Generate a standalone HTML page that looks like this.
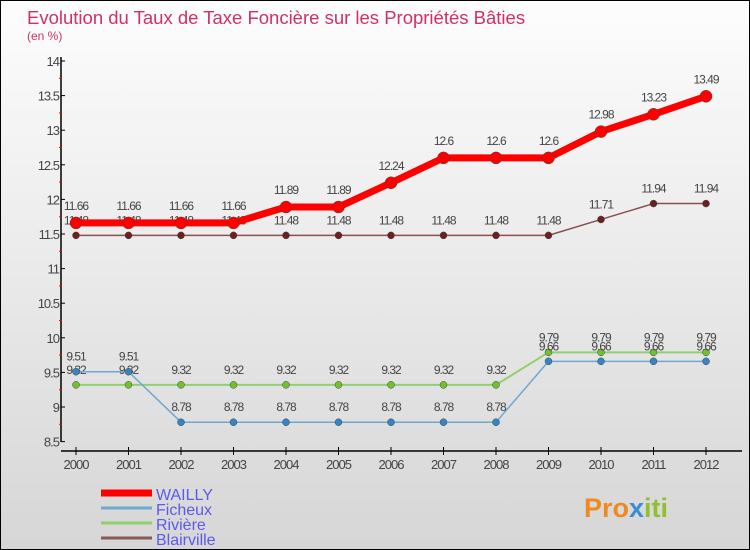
<!DOCTYPE html>
<html><head><meta charset="utf-8"><style>
body{margin:0;}
#c{width:750px;height:550px;position:relative;box-sizing:border-box;border:1px solid #000;background:linear-gradient(#fdfdfd,#d6d6d6);overflow:hidden;font-family:"Liberation Sans",sans-serif;}
svg text{font-family:"Liberation Sans",sans-serif;}
</style></head><body>
<div id="c">
<svg id="s" width="750" height="550">
<text x="26" y="23" font-size="18.5" fill="#d0306a">Evolution du Taux de Taxe Foncière sur les Propriétés Bâties</text>
<text x="26" y="39" font-size="12" fill="#d0306a">(en %)</text>
<text x="583" y="516" font-size="27" font-weight="bold" fill="#f08a20">Pro<tspan fill="#3a8fd0">x</tspan><tspan fill="#90c030">iti</tspan></text>
</svg>
</div>
<script>
const years=[2000,2001,2002,2003,2004,2005,2006,2007,2008,2009,2010,2011,2012];
const wailly=[11.66,11.66,11.66,11.66,11.89,11.89,12.24,12.6,12.6,12.6,12.98,13.23,13.49];
const ficheux=[9.51,9.51,8.78,8.78,8.78,8.78,8.78,8.78,8.78,9.66,9.66,9.66,9.66];
const riviere=[9.32,9.32,9.32,9.32,9.32,9.32,9.32,9.32,9.32,9.79,9.79,9.79,9.79];
const blairville=[11.48,11.48,11.48,11.48,11.48,11.48,11.48,11.48,11.48,11.48,11.71,11.94,11.94];
const yTicks=[8.5,9,9.5,10,10.5,11,11.5,12,12.5,13,13.5,14];
const NS="http://www.w3.org/2000/svg";
const s=document.getElementById('s');
const X=i=>75+i*52.5;
const Y=v=>60+(14-v)*69.2;
function el(t,a,p){const e=document.createElementNS(NS,t);for(const k in a)e.setAttribute(k,a[k]);(p||s).appendChild(e);return e;}
const ax=el('g',{});


el('line',{x1:60,y1:56,x2:60,y2:441,stroke:'#000','stroke-width':1.5},ax);
el('line',{x1:60,y1:450,x2:741,y2:450,stroke:'#000','stroke-width':1.5},ax);
yTicks.forEach(v=>{
 el('line',{x1:60,y1:Y(v),x2:64,y2:Y(v),stroke:'#000'},ax);
 if(v<14)el('line',{x1:58,y1:Y(v+0.25),x2:61,y2:Y(v+0.25),stroke:'#f00'},ax);
 const t=el('text',{x:58,y:Y(v)+5,'text-anchor':'end','font-size':13,fill:'#444','letter-spacing':'-1'},ax);
 
 
 t.textContent=v;
});
years.forEach((y,i)=>{
 el('line',{x1:X(i),y1:446,x2:X(i),y2:454,stroke:'#000'},ax);
 const t=el('text',{x:X(i),y:468,'text-anchor':'middle','font-size':13,fill:'#444','letter-spacing':'-1'},ax);
 
 
 t.textContent=y;
});
function series(name,data,color,w,r,dot,labOff){
 const g=el('g',{});
 
 
 el('polyline',{points:data.map((v,i)=>X(i)+','+Y(v)).join(' '),fill:'none',stroke:color,'stroke-width':w,'stroke-linejoin':'round'},g);
 data.forEach((v,i)=>{
  const c=el('circle',{cx:X(i),cy:Y(v),r:r,fill:dot,stroke:'#444','stroke-width':0.5},g);
  
  
  const t=el('text',{x:X(i),y:Y(v)-labOff,'text-anchor':'middle','font-size':12,fill:'#444','letter-spacing':'-1'},g);
  
  
  t.textContent=v;
 });
}
series('blairville',blairville,'#8a5050',1.5,3.5,'#6a2020',11);
series('riviere',riviere,'#90d070',2,3.5,'#70c030',11);
series('ficheux',ficheux,'#6fa8d0',1.5,3.5,'#3585c5',11);
series('wailly',wailly,'#f00',7,6,'#f00',13);
const lg=[['WAILLY','#f00',7],['Ficheux','#6fa8d0',3],['Rivière','#90d070',3],['Blairville','#8a5858',3]];
lg.forEach((l,i)=>{
 const g=el('g',{});
 
 
 const y=492+i*15;
 el('line',{x1:100,y1:y,x2:151,y2:y,stroke:l[1],'stroke-width':l[2]},g);
 const t=el('text',{x:155,y:y+7,'font-size':16,fill:'#5a5aee'},g);
 t.textContent=l[0];
});
</script>
</body></html>
